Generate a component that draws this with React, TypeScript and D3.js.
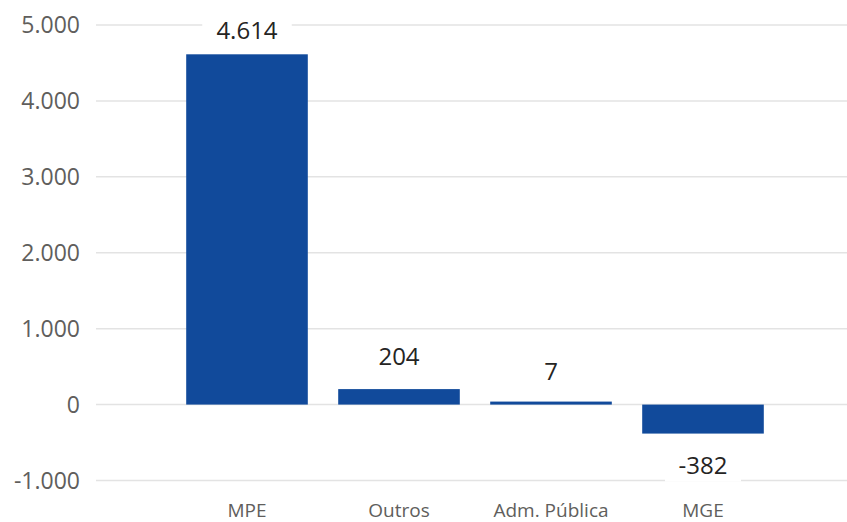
import React from "react";
import * as d3 from "d3";

const categories = ["MPE", "Outros", "Adm. Pública", "MGE"];
const values = [4614, 204, 7, -382];
const yTicks = [-1000, 0, 1000, 2000, 3000, 4000, 5000];

// pt-BR style: dot for thousands, plain hyphen for minus
const fmt = (v: number) =>
  d3.format(",")(v).replace(/,/g, ".").replace("\u2212", "-");

const App: React.FC = () => {
  const width = 847;
  const height = 522;
  const font = "'Open Sans', 'Segoe UI', sans-serif";

  const yScale = d3.scaleLinear().domain([-1000, 5000]).range([480.5, 25]);
  const xScale = d3
    .scaleBand<string>()
    .domain(categories)
    .range([171, 779])
    .paddingInner(0.2)
    .paddingOuter(0.1);

  const barColor = "#114a9b";

  return (
    <svg
      width={width}
      height={height}
      style={{ position: "absolute", left: 0, top: 0, background: "#fff" }}
    >
      {/* gridlines + y ticks */}
      {yTicks.map((t) => (
        <g key={t}>
          <line
            x1={96}
            x2={847}
            y1={yScale(t)}
            y2={yScale(t)}
            stroke="#e3e3e3"
            strokeWidth={1.5}
          />
          <text
            x={80}
            y={yScale(t)}
            dy="0.36em"
            textAnchor="end"
            fontFamily={font}
            fontSize={23}
            fill="#605e5c"
          >
            {fmt(t)}
          </text>
        </g>
      ))}

      {/* bars (tiny values still get a visible sliver) */}
      {values.map((v, i) => {
        const h = Math.max(Math.abs(yScale(v) - yScale(0)), 3);
        const y = v >= 0 ? yScale(0) - h : yScale(0);
        return (
          <rect
            key={categories[i]}
            x={xScale(categories[i])}
            width={xScale.bandwidth()}
            y={y}
            height={h}
            fill={barColor}
          />
        );
      })}

      {/* data labels */}
      {values.map((v, i) => {
        const cx = (xScale(categories[i]) || 0) + xScale.bandwidth() / 2;
        const y = v >= 0 ? Math.max(yScale(v) - 24, 39) : yScale(v) + 40;
        const label = fmt(v);
        const w = label.length * 13.5 + 22;
        return (
          <g key={"l" + i}>
            <rect x={cx - w / 2} y={y - 22} width={w} height={30} fill="#fff" />
            <text
              x={cx}
              y={y}
              textAnchor="middle"
              fontFamily={font}
              fontSize={24}
              fill="#252423"
            >
              {label}
            </text>
          </g>
        );
      })}

      {/* x labels */}
      {categories.map((c) => (
        <text
          key={c}
          x={(xScale(c) || 0) + xScale.bandwidth() / 2}
          y={517}
          textAnchor="middle"
          fontFamily={font}
          fontSize={19}
          fill="#605e5c"
        >
          {c}
        </text>
      ))}
    </svg>
  );
};

export default App;
